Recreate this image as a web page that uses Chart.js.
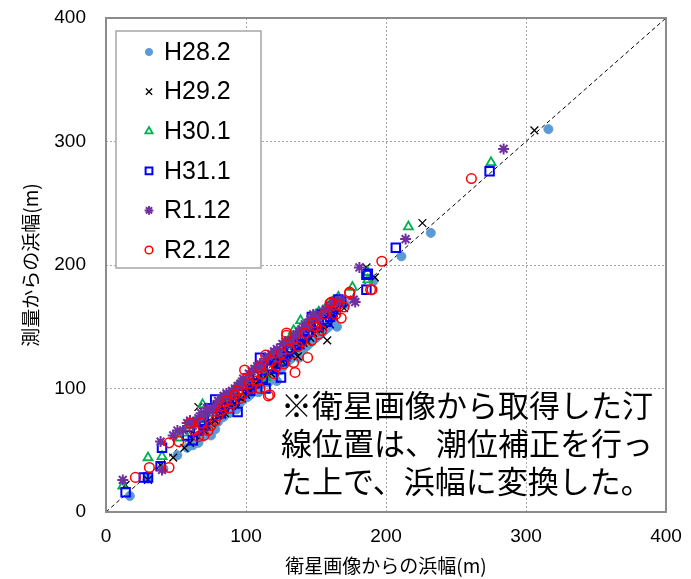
<!DOCTYPE html>
<html>
<head>
<meta charset="utf-8">
<script src="https://cdn.jsdelivr.net/npm/chart.js@4.4.1/dist/chart.umd.min.js"></script>
<style>
html,body{margin:0;padding:0;background:#fff;}
</style>
</head>
<body>
<canvas id="myChart" width="691" height="579"></canvas>
<script>
// series names
const seriesNames = ['H28.2', 'H29.2', 'H30.1', 'H31.1', 'R1.12', 'R2.12'];

// [衛星画像からの浜幅, 測量からの浜幅]
const h28 = [[17,13],[30,27],[41,35],[51,46],[58,52],[62,54],[66,56],[64,58],[68,60],[70,64],[72,63],[75,62],[76,69],[78,67],[80,73],[82,76],[84,77],[86,80],[88,80],[91,84],[93,83],[95,87],[97,90],[99,92],[101,93],[103,95],[105,98],[107,99],[109,97],[111,103],[114,106],[116,105],[118,110],[120,113],[122,106],[125,115],[126,117],[128,120],[130,122],[132,124],[134,128],[136,127],[138,125],[140,131],[142,133],[144,135],[146,137],[148,140],[150,141],[152,143],[154,145],[156,147],[158,149],[160,151],[162,156],[165,150],[171,168],[191,187],[211,207],[232,226],[316,310]];
const h29 = [[14,22],[30,26],[39,38],[48,44],[56,52],[60,56],[64,62],[66,85],[70,66],[72,70],[75,72],[78,74],[80,78],[83,79],[85,80],[88,86],[90,86],[92,88],[95,93],[97,92],[100,95],[102,98],[105,100],[107,104],[110,106],[112,108],[115,112],[118,112],[120,117],[122,118],[124,121],[126,122],[128,125],[130,127],[132,128],[135,130],[137,126],[139,135],[141,137],[144,138],[146,141],[148,145],[150,148],[152,148],[155,150],[158,139],[160,152],[163,158],[165,162],[170,165],[186,198],[192,190],[226,234],[306,309]];
const h30 = [[12,21],[30,44],[40,45],[52,60],[56,64],[60,70],[63,72],[67,75],[69,87],[72,82],[74,80],[77,84],[79,86],[82,90],[84,92],[86,94],[88,96],[91,98],[93,101],[96,104],[98,104],[101,107],[103,110],[106,112],[108,116],[111,118],[114,109],[116,122],[118,124],[120,127],[122,130],[125,132],[127,134],[129,137],[131,140],[133,141],[134,147],[137,146],[139,155],[141,148],[143,150],[146,154],[148,158],[150,160],[152,162],[155,163],[157,165],[160,168],[162,170],[166,174],[176,182],[187,194],[187,188],[216,231],[275,283]];
const h31 = [[14,16],[27,28],[30,28],[39,37],[40,52],[58,62],[62,58],[66,66],[68,74],[70,70],[74,84],[76,78],[78,91],[80,86],[82,80],[84,84],[86,88],[88,92],[92,90],[94,81],[97,96],[99,102],[101,100],[103,98],[106,104],[108,110],[110,125],[112,108],[114,100],[116,118],[118,116],[120,124],[122,120],[124,128],[125,109],[126,122],[128,126],[130,130],[132,132],[134,138],[136,135],[138,136],[140,140],[142,142],[144,146],[146,150],[147,158],[150,152],[152,150],[154,160],[156,156],[158,154],[160,158],[162,162],[164,166],[166,172],[168,170],[186,192],[186,180],[187,193],[207,214],[274,276]];
const r1 = [[12,26],[40,34],[39,57],[48,62],[51,66],[55,66],[58,72],[60,74],[62,70],[64,73],[66,76],[68,80],[70,78],[72,84],[74,82],[76,82],[78,86],[80,90],[82,92],[84,94],[86,96],[88,94],[90,98],[92,100],[94,102],[96,104],[98,108],[100,106],[102,112],[104,114],[106,116],[108,118],[110,120],[112,116],[114,124],[116,126],[118,128],[120,130],[122,132],[124,128],[126,136],[128,138],[130,138],[132,136],[134,142],[136,144],[138,146],[140,148],[142,152],[144,150],[146,156],[148,160],[150,158],[152,156],[155,162],[157,164],[160,166],[162,170],[165,170],[168,172],[178,170],[177,172],[181,198],[214,221],[284,294]];
const r2 = [[21,28],[31,36],[45,36],[45,56],[52,57],[60,72],[63,66],[66,61],[68,72],[70,62],[73,66],[75,70],[78,74],[80,78],[82,82],[84,86],[86,90],[88,84],[90,88],[92,95],[94,98],[96,92],[98,96],[99,115],[102,104],[104,100],[106,110],[108,106],[110,100],[110,117],[112,112],[114,127],[116,94],[117,95],[118,122],[120,112],[122,118],[125,128],[127,120],[129,143],[129,145],[131,132],[134,121],[135,113],[137,134],[140,138],[142,145],[144,125],[147,139],[148,153],[150,150],[152,144],[154,147],[156,160],[160,169],[161,170],[164,160],[166,168],[168,157],[170,166],[174,177],[174,178],[189,180],[190,180],[197,203],[261,270]];

const diagonal = [[0,0],[400,400]];
const axisTicks = [0, 100, 200, 300, 400];
const noteLines = ['※衛星画像から取得した汀', '線位置は、潮位補正を行っ', 'た上で、浜幅に変換した。'];

const styles = [
  {pointStyle:'circle', radius:4.5, borderColor:'#5b9bd5', backgroundColor:'#5b9bd5', borderWidth:1},
  {pointStyle:'crossRot', radius:5.5, borderColor:'#000000', backgroundColor:'#000000', borderWidth:1.3},
  {pointStyle:'triangle', radius:5.2, borderColor:'#00b050', backgroundColor:'rgba(0,0,0,0)', borderWidth:1.8},
  {pointStyle:'rect', radius:6, borderColor:'#0000ff', backgroundColor:'rgba(0,0,0,0)', borderWidth:2},
  {pointStyle:'star', radius:5.5, borderColor:'#7030a0', backgroundColor:'#7030a0', borderWidth:2},
  {pointStyle:'circle', radius:4.8, borderColor:'#ff0000', backgroundColor:'rgba(0,0,0,0)', borderWidth:1.5}
];

const allSeries = [h28, h29, h30, h31, r1, r2];
const toXY = arr => arr.map(p => ({x: p[0], y: p[1]}));

let datasets = allSeries.map((s, i) => ({
  label: seriesNames[i],
  data: toXY(s),
  pointStyle: styles[i].pointStyle,
  pointRadius: styles[i].radius,
  pointBorderColor: styles[i].borderColor,
  pointBackgroundColor: styles[i].backgroundColor,
  pointBorderWidth: styles[i].borderWidth,
  order: 6 - i
}));

datasets.push({
  label: 'diag',
  data: toXY(diagonal),
  showLine: true,
  borderColor: '#000',
  borderWidth: 1,
  borderDash: [4, 3],
  pointRadius: 0,
  order: 10
});

const jpFont = '"Noto Sans CJK JP", "Noto Sans", sans-serif';

// legend box, plot frame and note
const extras = {
  id: 'extras',
  afterDraw(chart) {
    const ctx = chart.ctx;
    const a = chart.chartArea;
    ctx.save();
    ctx.strokeStyle = '#8c8c8c';
    ctx.lineWidth = 2;
    ctx.strokeRect(a.left, a.top, a.right - a.left, a.bottom - a.top);

    // legend
    ctx.fillStyle = '#fff';
    ctx.fillRect(116, 31, 145, 237);
    ctx.strokeStyle = '#a6a6a6';
    ctx.lineWidth = 1.5;
    ctx.strokeRect(116, 31, 145, 237);
    seriesNames.forEach((name, i) => {
      const y = 52 + i * 39.6;
      const st = styles[i];
      ctx.save();
      ctx.strokeStyle = st.borderColor;
      ctx.fillStyle = st.backgroundColor;
      ctx.lineWidth = st.borderWidth;
      Chart.helpers.drawPoint(ctx, {pointStyle: st.pointStyle, radius: st.radius * 0.8, rotation: 0, borderWidth: st.borderWidth}, 149, y);
      ctx.restore();
      ctx.fillStyle = '#000';
      ctx.font = '25px "Liberation Sans", Arial, sans-serif';
      ctx.textBaseline = 'middle';
      ctx.textAlign = 'left';
      ctx.fillText(name, 164, y + 1);
    });

    // note
    ctx.fillStyle = '#000';
    ctx.font = '31px ' + jpFont;
    ctx.textBaseline = 'middle';
    ctx.textAlign = 'left';
    noteLines.forEach((t, i) => ctx.fillText(t, 281, 405 + i * 38));
    ctx.restore();
  }
};

const ctx = document.getElementById('myChart');

new Chart(ctx, {
  type: 'scatter',
  data: { datasets: datasets },
  options: {
    responsive: false,
    animation: false,
    layout: { padding: { top: 18, right: 25, left: 0, bottom: 0 } },
    plugins: { legend: { display: false }, tooltip: { enabled: false } },
    scales: {
      x: {
        min: 0, max: 400,
        afterBuildTicks: s => { s.ticks = axisTicks.map(v => ({value: v})); },
        afterFit: s => { s.height = 67; s.paddingLeft = 0; s.paddingRight = 0; },
        grid: { color: '#a6a6a6', drawTicks: false },
        border: { display: false, dash: [2, 2] },
        ticks: { padding: 13, color: '#000', font: { size: 19 } },
        title: { display: true, text: '衛星画像からの浜幅(m)', color: '#000', font: { family: jpFont, size: 19 }, padding: { top: 0, bottom: 2 } }
      },
      y: {
        min: 0, max: 400,
        afterBuildTicks: s => { s.ticks = axisTicks.map(v => ({value: v})); },
        afterFit: s => { s.width = 106; s.paddingTop = 0; s.paddingBottom = 0; },
        grid: { color: '#a6a6a6', drawTicks: false },
        border: { display: false, dash: [2, 2] },
        ticks: { padding: 20, color: '#000', font: { size: 19 } },
        title: { display: true, text: '測量からの浜幅(m)', color: '#000', font: { family: jpFont, size: 19 }, padding: { top: 19, bottom: 0 } }
      }
    }
  },
  plugins: [extras]
});
</script>
</body>
</html>
